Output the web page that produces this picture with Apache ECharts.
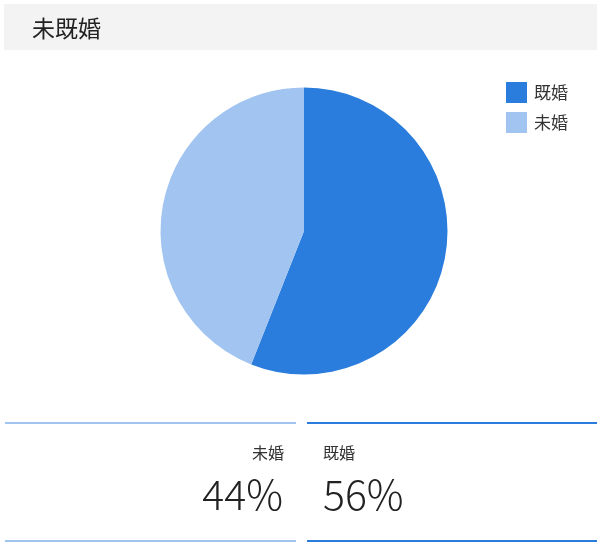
<!DOCTYPE html>
<html>
<head>
<meta charset="utf-8">
<script src="https://cdn.jsdelivr.net/npm/echarts@6/dist/echarts.min.js"></script>
<style>
  html, body { margin: 0; padding: 0; background: #fff; }
  #chart { width: 600px; height: 545px; }
</style>
</head>
<body>
<div id="chart"></div>
<script>
// data
const title = '未既婚';
const categories = ['既婚', '未婚'];
const values = [56, 44];
const colors = ['#2a7ddc', '#a2c4f0'];

const font = '"Noto Sans CJK JP", "Noto Sans", sans-serif';
const total = values.reduce((a, b) => a + b, 0);
const pct = values.map(v => Math.round(v / total * 100) + '%');

const chart = echarts.init(document.getElementById('chart'));

// bottom summary panels: left = 未婚 (right aligned), right = 既婚 (left aligned)
const panels = [
  { idx: 1, x: 5, w: 291, align: 'right', tx: 284 },
  { idx: 0, x: 307, w: 290, align: 'left', tx: 323 }
];
const panelGraphics = [];
panels.forEach(p => {
  panelGraphics.push(
    { type: 'rect', shape: { x: p.x, y: 422, width: p.w, height: 2 }, style: { fill: colors[p.idx] } },
    { type: 'rect', shape: { x: p.x, y: 540, width: p.w, height: 2 }, style: { fill: colors[p.idx] } },
    { type: 'text', x: p.tx, y: 453, style: { text: categories[p.idx], fill: '#333', font: '16px ' + font, textAlign: p.align, textVerticalAlign: 'middle' } },
    { type: 'text', x: p.tx - (p.align === 'right' ? 1 : 0), y: 494, style: { text: pct[p.idx], fill: '#222', font: '300 41px ' + font, textAlign: p.align, textVerticalAlign: 'middle' } }
  );
});

chart.setOption({
  animation: false,
  color: colors,
  legend: {
    orient: 'vertical',
    left: 506,
    top: 82,
    padding: 0,
    itemWidth: 21,
    itemHeight: 21,
    itemGap: 9,
    icon: 'rect',
    textStyle: { fontSize: 17, color: '#333', fontFamily: font, padding: [0, 0, 0, 2] },
    data: categories
  },
  graphic: [
    { type: 'rect', shape: { x: 4, y: 4, width: 593, height: 46 }, style: { fill: '#f3f3f3' } },
    { type: 'text', x: 32, y: 28, style: { text: title, fill: '#222', font: '23px ' + font, textVerticalAlign: 'middle' } }
  ].concat(panelGraphics),
  series: [{
    type: 'pie',
    center: [304, 231],
    radius: 143.5,
    startAngle: 90,
    label: { show: false },
    labelLine: { show: false },
    itemStyle: { borderWidth: 0 },
    data: categories.map((c, i) => ({ name: c, value: values[i] }))
  }]
});
</script>
</body>
</html>
